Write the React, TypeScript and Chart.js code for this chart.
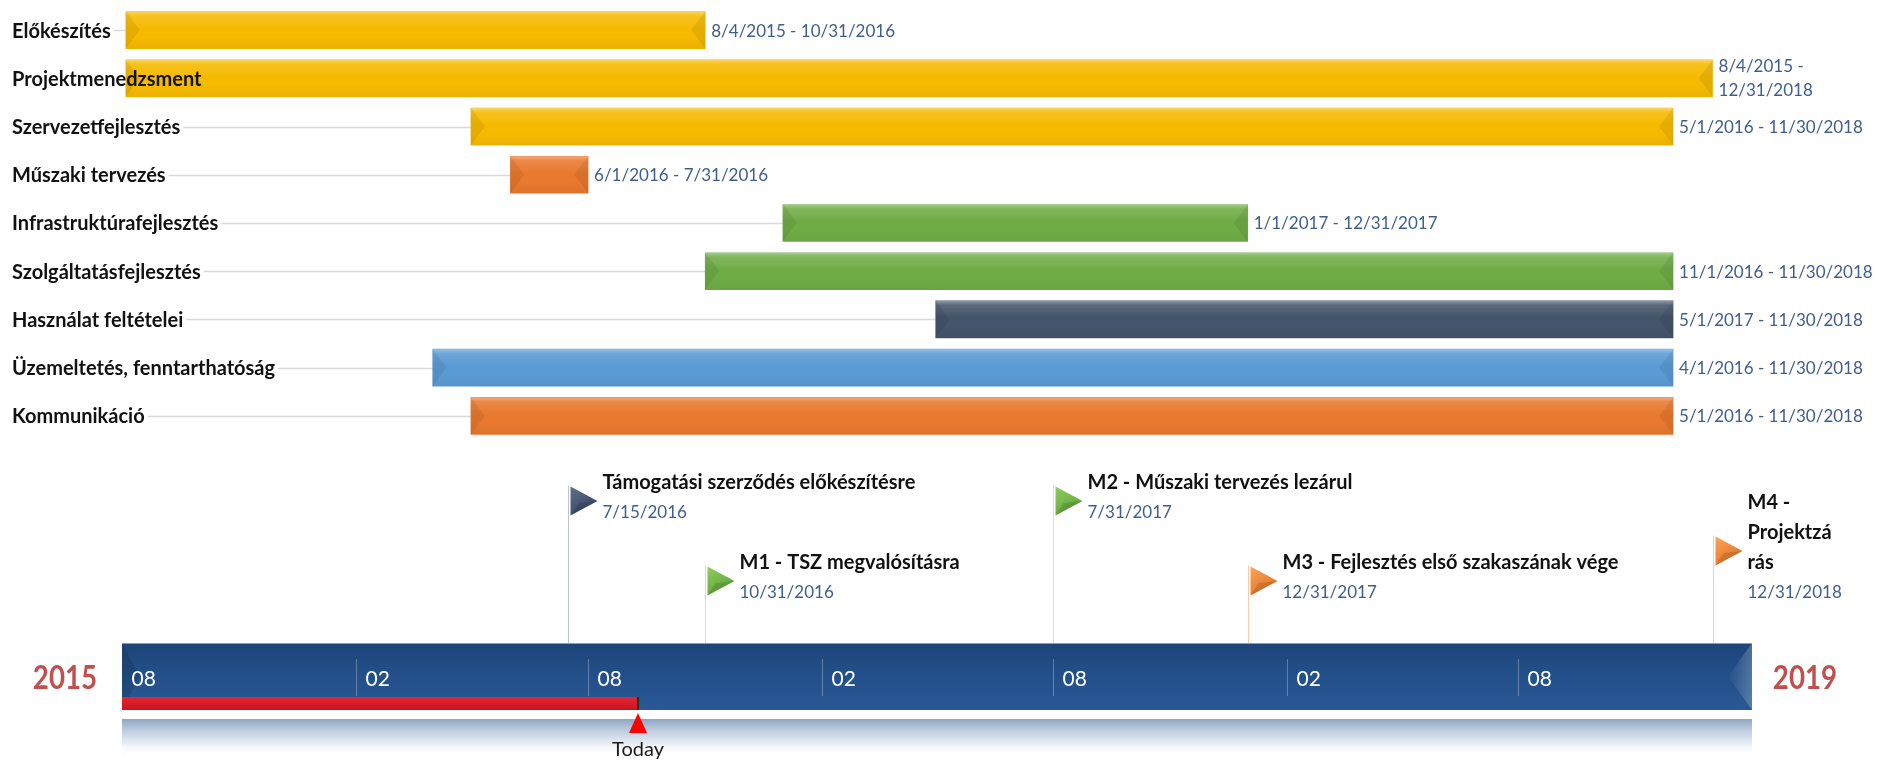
import React, { useEffect, useRef } from 'react';
import { Chart, registerables } from 'chart.js';

Chart.register(...registerables);

// ---------------- data ----------------
const taskNames = [
  'Előkészítés',
  'Projektmenedzsment',
  'Szervezetfejlesztés',
  'Műszaki tervezés',
  'Infrastruktúrafejlesztés',
  'Szolgáltatásfejlesztés',
  'Használat feltételei',
  'Üzemeltetés, fenntarthatóság',
  'Kommunikáció',
];
const taskStarts = ['8/4/2015', '8/4/2015', '5/1/2016', '6/1/2016', '1/1/2017', '11/1/2016', '5/1/2017', '4/1/2016', '5/1/2016'];
const taskEnds = ['10/31/2016', '12/31/2018', '11/30/2018', '7/31/2016', '12/31/2017', '11/30/2018', '11/30/2018', '11/30/2018', '11/30/2018'];

const milestoneNames = [
  'Támogatási szerződés előkészítésre',
  'M1 - TSZ megvalósításra',
  'M2 - Műszaki tervezés lezárul',
  'M3 - Fejlesztés első szakaszának vége',
  'M4 - Projektzárás',
];
const milestoneDates = ['7/15/2016', '10/31/2016', '7/31/2017', '12/31/2017', '12/31/2018'];

const todayDate = '9/9/2016';
const axisStart = '8/1/2015';
const axisEnd = '2/1/2019';
const tickDates = ['8/1/2015', '2/1/2016', '8/1/2016', '2/1/2017', '8/1/2017', '2/1/2018', '8/1/2018'];
const tickLabels = ['08', '02', '08', '02', '08', '02', '08'];
const startYearLabel = '2015';
const endYearLabel = '2019';

// ---------------- styles / layout ----------------
const W = 1879;
const H = 762;

const YELLOW = '#F6BA00';
const ORANGE = '#E9792F';
const GREEN = '#6FAC46';
const SLATE = '#44546A';
const BLUE = '#5B9BD5';
const TASK_COLORS = [YELLOW, YELLOW, YELLOW, ORANGE, GREEN, GREEN, SLATE, BLUE, ORANGE];

const MS_SLATE = { light: '#5F7090', dark: '#34425A', pole: '#BCC4D0' };
const MS_GREEN = { light: '#8FCF5E', dark: '#5E9E36', pole: '#CFE6BE' };
const MS_ORANGE = { light: '#FBA45C', dark: '#E0701E', pole: '#F7CDAE' };
const MS_STYLES = [MS_SLATE, MS_GREEN, MS_GREEN, MS_ORANGE, MS_ORANGE];
const MS_LANES = [0, 1, 0, 1, 1];

const FONT = 'Lato, "Noto Sans", sans-serif';
const LABEL_FONT = `bold 20px ${FONT}`;
const DATE_FONT = `17px ${FONT}`;
const DATE_COLOR = '#3E5E8E';
const LABEL_X = 12;

const BAND_TOP = 643;
const BAND_BOTTOM = 710;
const LANE_DATE_Y = [513, 593];
const LINE_H = 30;

// ---------------- helpers ----------------
function dayNum(s: string): number {
  const [m, d, y] = s.split('/').map(Number);
  return Date.UTC(y, m - 1, d) / 86400000;
}
const ORIGIN = dayNum(axisStart);
function toDay(s: string): number {
  return dayNum(s) - ORIGIN;
}

const barData = taskStarts.map((s, i) => [toDay(s), toDay(taskEnds[i]) + 1]);

function wrapText(ctx: CanvasRenderingContext2D, text: string, maxW: number): string[] {
  const words = text.split(' ');
  const lines: string[] = [];
  let cur = '';
  for (const w of words) {
    const test = cur ? cur + ' ' + w : w;
    if (ctx.measureText(test).width <= maxW) {
      cur = test;
      continue;
    }
    if (cur) lines.push(cur);
    if (ctx.measureText(w).width <= maxW) {
      cur = w;
    } else {
      let part = '';
      for (const ch of w) {
        if (ctx.measureText(part + ch).width > maxW && part) {
          lines.push(part);
          part = ch;
        } else part += ch;
      }
      cur = part;
    }
  }
  if (cur) lines.push(cur);
  return lines;
}

function barRect(el: any) {
  const p = el.getProps(['x', 'y', 'base', 'height'], true);
  const l = Math.min(p.x, p.base);
  const r = Math.max(p.x, p.base);
  return { l, r, t: p.y - p.height / 2, b: p.y + p.height / 2, y: p.y };
}

const timelinePlugin = {
  id: 'timelineDeco',
  beforeDatasetsDraw(chart: any) {
    const ctx: CanvasRenderingContext2D = chart.ctx;
    const meta = chart.getDatasetMeta(0);
    ctx.save();
    ctx.font = LABEL_FONT;
    meta.data.forEach((el: any, i: number) => {
      const r = barRect(el);
      const x0 = LABEL_X + ctx.measureText(taskNames[i]).width + 3;
      if (x0 < r.l) {
        ctx.strokeStyle = '#D9D9D9';
        ctx.lineWidth = 1.5;
        ctx.beginPath();
        ctx.moveTo(x0, Math.round(r.y) + 0.5);
        ctx.lineTo(r.l, Math.round(r.y) + 0.5);
        ctx.stroke();
      }
    });
    ctx.restore();
  },
  afterDatasetsDraw(chart: any) {
    const ctx: CanvasRenderingContext2D = chart.ctx;
    const meta = chart.getDatasetMeta(0);
    ctx.save();
    meta.data.forEach((el: any, i: number) => {
      const { l, r, t, b, y } = barRect(el);
      const h = b - t;
      // top highlight
      const g = ctx.createLinearGradient(0, t, 0, t + h * 0.45);
      g.addColorStop(0, 'rgba(255,255,255,0.38)');
      g.addColorStop(0.25, 'rgba(255,255,255,0.12)');
      g.addColorStop(1, 'rgba(255,255,255,0)');
      ctx.fillStyle = g;
      ctx.fillRect(l, t, r - l, h * 0.45);
      // bottom soft shade
      const g2 = ctx.createLinearGradient(0, b - h * 0.3, 0, b);
      g2.addColorStop(0, 'rgba(0,0,0,0)');
      g2.addColorStop(1, 'rgba(0,0,0,0.05)');
      ctx.fillStyle = g2;
      ctx.fillRect(l, b - h * 0.3, r - l, h * 0.3);
      // bevel chevrons
      const bw = Math.min(14, (r - l) / 4);
      ctx.fillStyle = 'rgba(0,0,0,0.07)';
      ctx.beginPath();
      ctx.moveTo(l, t);
      ctx.lineTo(l + bw, y);
      ctx.lineTo(l, b);
      ctx.closePath();
      ctx.fill();
      ctx.beginPath();
      ctx.moveTo(r, t);
      ctx.lineTo(r - bw, y);
      ctx.lineTo(r, b);
      ctx.closePath();
      ctx.fill();

      // date label
      ctx.font = DATE_FONT;
      ctx.fillStyle = DATE_COLOR;
      ctx.textBaseline = 'middle';
      ctx.textAlign = 'left';
      const label = `${taskStarts[i]} - ${taskEnds[i]}`;
      const dx = r + 6;
      if (dx + ctx.measureText(label).width > W - 1) {
        ctx.fillText(`${taskStarts[i]} -`, dx, y - 12);
        ctx.fillText(taskEnds[i], dx, y + 12);
      } else {
        ctx.fillText(label, dx, y + 1);
      }
      // task label
      ctx.font = LABEL_FONT;
      ctx.fillStyle = '#111111';
      ctx.fillText(taskNames[i], LABEL_X, y + 1);
    });
    ctx.restore();
  },
  afterDraw(chart: any) {
    const ctx: CanvasRenderingContext2D = chart.ctx;
    const xs = chart.scales.x;
    const left = xs.getPixelForValue(toDay(axisStart));
    const right = xs.getPixelForValue(toDay(axisEnd));
    ctx.save();

    // ---- milestones ----
    milestoneNames.forEach((name, i) => {
      const st = MS_STYLES[i];
      const px = Math.round(xs.getPixelForValue(toDay(milestoneDates[i]) + 1)) + 0.5;
      const tx = px + 34;
      ctx.font = LABEL_FONT;
      const maxW = Math.min(600, W - tx - 45);
      const lines = wrapText(ctx, name, maxW);
      const dateY = LANE_DATE_Y[MS_LANES[i]];
      const firstY = dateY - LINE_H * lines.length;
      const fc = (firstY + dateY) / 2 + 3;
      const ft = fc - 14.5;
      // pole
      ctx.strokeStyle = st.pole;
      ctx.lineWidth = 1;
      ctx.beginPath();
      ctx.moveTo(px, ft - 1);
      ctx.lineTo(px, BAND_TOP);
      ctx.stroke();
      // flag
      const fx = px + 2;
      const fg = ctx.createLinearGradient(fx, ft, fx + 20, ft + 29);
      fg.addColorStop(0, st.light);
      fg.addColorStop(1, st.dark);
      ctx.fillStyle = fg;
      ctx.beginPath();
      ctx.moveTo(fx, ft);
      ctx.lineTo(fx + 27, fc);
      ctx.lineTo(fx, ft + 29);
      ctx.closePath();
      ctx.fill();
      ctx.fillStyle = 'rgba(0,0,0,0.12)';
      ctx.beginPath();
      ctx.moveTo(fx, ft + 29);
      ctx.lineTo(fx + 27, fc);
      ctx.lineTo(fx + 8, fc + 2);
      ctx.closePath();
      ctx.fill();
      // text
      ctx.textAlign = 'left';
      ctx.textBaseline = 'middle';
      ctx.fillStyle = '#111111';
      lines.forEach((ln, j) => ctx.fillText(ln, tx, firstY + LINE_H * j));
      ctx.font = DATE_FONT;
      ctx.fillStyle = DATE_COLOR;
      ctx.fillText(milestoneDates[i], tx, dateY);
    });

    // ---- timeline band ----
    const bg = ctx.createLinearGradient(0, BAND_TOP, 0, BAND_BOTTOM);
    bg.addColorStop(0, '#1E4478');
    bg.addColorStop(0.5, '#23508A');
    bg.addColorStop(1, '#295894');
    ctx.fillStyle = bg;
    ctx.fillRect(left, BAND_TOP, right - left, BAND_BOTTOM - BAND_TOP);
    ctx.fillStyle = 'rgba(160,180,205,0.8)';
    ctx.fillRect(left, BAND_TOP, right - left, 1);
    // end bevels
    const mid = (BAND_TOP + BAND_BOTTOM) / 2;
    ctx.fillStyle = 'rgba(0,0,0,0.12)';
    ctx.beginPath();
    ctx.moveTo(left, BAND_TOP);
    ctx.lineTo(left + 18, mid);
    ctx.lineTo(left, BAND_BOTTOM);
    ctx.closePath();
    ctx.fill();
    const rg = ctx.createLinearGradient(right - 24, 0, right, 0);
    rg.addColorStop(0, 'rgba(255,255,255,0)');
    rg.addColorStop(1, 'rgba(255,255,255,0.22)');
    ctx.fillStyle = rg;
    ctx.beginPath();
    ctx.moveTo(right, BAND_TOP);
    ctx.lineTo(right - 24, mid);
    ctx.lineTo(right, BAND_BOTTOM);
    ctx.closePath();
    ctx.fill();

    // ticks
    ctx.font = `21px ${FONT}`;
    ctx.textAlign = 'left';
    ctx.textBaseline = 'middle';
    tickDates.forEach((d, i) => {
      const x = Math.round(xs.getPixelForValue(toDay(d))) + 0.5;
      if (x > left + 2) {
        ctx.strokeStyle = 'rgba(255,255,255,0.28)';
        ctx.lineWidth = 1;
        ctx.beginPath();
        ctx.moveTo(x, 659);
        ctx.lineTo(x, 696);
        ctx.stroke();
      }
      ctx.fillStyle = '#FFFFFF';
      ctx.fillText(tickLabels[i], x + 9, 679);
    });

    // reflection
    const refl = ctx.createLinearGradient(0, 719, 0, 758);
    refl.addColorStop(0, 'rgba(135,160,192,0.95)');
    refl.addColorStop(0.5, 'rgba(190,205,224,0.6)');
    refl.addColorStop(1, 'rgba(255,255,255,0)');
    ctx.fillStyle = refl;
    ctx.fillRect(left, 719, right - left, 39);

    // today
    const tdx = Math.round(xs.getPixelForValue(toDay(todayDate)));
    const red = ctx.createLinearGradient(0, 697, 0, 710);
    red.addColorStop(0, '#E52532');
    red.addColorStop(1, '#C8141E');
    ctx.fillStyle = red;
    ctx.fillRect(left, 697, tdx - left, 13);
    ctx.fillStyle = '#2A2A2A';
    ctx.fillRect(tdx - 1, 697, 2, 13);
    ctx.fillStyle = '#FF0000';
    ctx.beginPath();
    ctx.moveTo(tdx, 713);
    ctx.lineTo(tdx + 9, 733);
    ctx.lineTo(tdx - 9, 733);
    ctx.closePath();
    ctx.fill();
    ctx.font = `20px ${FONT}`;
    ctx.fillStyle = '#1A1A1A';
    ctx.textAlign = 'center';
    ctx.fillText('Today', tdx, 750);

    // years (slightly condensed)
    ctx.font = `bold 33px ${FONT}`;
    ctx.fillStyle = '#C0504D';
    ctx.textAlign = 'center';
    const sx = 0.84;
    ctx.save();
    ctx.translate(left - 57, 678);
    ctx.scale(sx, 1);
    ctx.fillText(startYearLabel, 0, 0);
    ctx.restore();
    ctx.save();
    ctx.translate(right + 53, 678);
    ctx.scale(sx, 1);
    ctx.fillText(endYearLabel, 0, 0);
    ctx.restore();

    ctx.restore();
  },
};

export default function App() {
  const ref = useRef<HTMLCanvasElement>(null);
  useEffect(() => {
    if (!ref.current) return;
    const chart = new Chart(ref.current, {
      type: 'bar',
      data: {
        labels: taskNames,
        datasets: [
          {
            data: barData as any,
            backgroundColor: TASK_COLORS,
            borderWidth: 0,
            barThickness: 37,
            borderSkipped: false,
          },
        ],
      },
      options: {
        indexAxis: 'y',
        responsive: false,
        animation: false,
        devicePixelRatio: 1,
        layout: { padding: { left: 122, right: W - 1752, top: 6, bottom: H - 440 } },
        scales: {
          x: { type: 'linear', min: toDay(axisStart), max: toDay(axisEnd), display: false },
          y: { type: 'category', display: false, offset: true },
        },
        plugins: {
          legend: { display: false },
          tooltip: { enabled: false },
          title: { display: false },
        },
      },
      plugins: [timelinePlugin],
    });
    return () => chart.destroy();
  }, []);
  return (
    <div style={{ position: 'absolute', left: 0, top: 0, width: W, height: H, background: '#fff', overflow: 'hidden' }}>
      <canvas ref={ref} width={W} height={H} style={{ display: 'block', width: W, height: H }} />
    </div>
  );
}
